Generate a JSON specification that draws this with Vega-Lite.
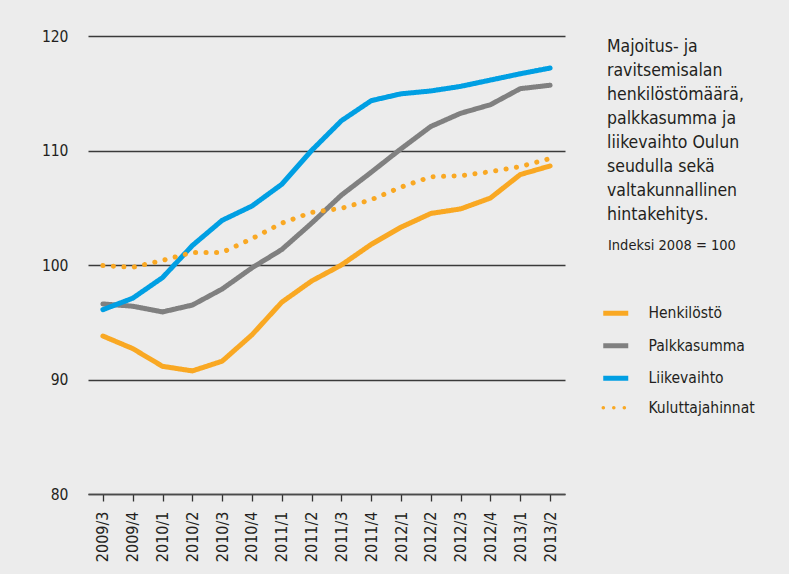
{
  "$schema": "https://vega.github.io/schema/vega-lite/v6.json",
  "width": 490,
  "height": 458,
  "autosize": {"type": "none"},
  "padding": {"left": 78, "top": 36, "right": 221, "bottom": 80},
  "background": "#ececec",
  "config": {
    "view": {"stroke": null},
    "font": "DejaVu Sans Condensed, sans-serif"
  },
  "title": {
    "text": ["Majoitus- ja", "ravitsemisalan", "henkilöstömäärä,", "palkkasumma ja", "liikevaihto Oulun", "seudulla sekä", "valtakunnallinen", "hintakehitys."],
    "orient": "top",
    "anchor": "start",
    "frame": "group",
    "align": "left",
    "baseline": "top",
    "fontSize": 17.5,
    "fontWeight": "normal",
    "lineHeight": 24,
    "color": "#231f20",
    "offset": 4,
    "dx": 529,
    "dy": 198
  },
  "data": {
    "values": [
      {"q": "2009/3", "s": "Henkilöstö", "v": 93.8},
      {"q": "2009/4", "s": "Henkilöstö", "v": 92.7},
      {"q": "2010/1", "s": "Henkilöstö", "v": 91.15},
      {"q": "2010/2", "s": "Henkilöstö", "v": 90.75},
      {"q": "2010/3", "s": "Henkilöstö", "v": 91.6},
      {"q": "2010/4", "s": "Henkilöstö", "v": 93.9},
      {"q": "2011/1", "s": "Henkilöstö", "v": 96.75},
      {"q": "2011/2", "s": "Henkilöstö", "v": 98.6},
      {"q": "2011/3", "s": "Henkilöstö", "v": 100.0},
      {"q": "2011/4", "s": "Henkilöstö", "v": 101.8},
      {"q": "2012/1", "s": "Henkilöstö", "v": 103.3},
      {"q": "2012/2", "s": "Henkilöstö", "v": 104.5},
      {"q": "2012/3", "s": "Henkilöstö", "v": 104.9},
      {"q": "2012/4", "s": "Henkilöstö", "v": 105.85},
      {"q": "2013/1", "s": "Henkilöstö", "v": 107.9},
      {"q": "2013/2", "s": "Henkilöstö", "v": 108.65},
      {"q": "2009/3", "s": "Palkkasumma", "v": 96.6},
      {"q": "2009/4", "s": "Palkkasumma", "v": 96.4},
      {"q": "2010/1", "s": "Palkkasumma", "v": 95.9},
      {"q": "2010/2", "s": "Palkkasumma", "v": 96.5},
      {"q": "2010/3", "s": "Palkkasumma", "v": 97.9},
      {"q": "2010/4", "s": "Palkkasumma", "v": 99.75},
      {"q": "2011/1", "s": "Palkkasumma", "v": 101.35},
      {"q": "2011/2", "s": "Palkkasumma", "v": 103.65},
      {"q": "2011/3", "s": "Palkkasumma", "v": 106.1},
      {"q": "2011/4", "s": "Palkkasumma", "v": 108.1},
      {"q": "2012/1", "s": "Palkkasumma", "v": 110.15},
      {"q": "2012/2", "s": "Palkkasumma", "v": 112.1},
      {"q": "2012/3", "s": "Palkkasumma", "v": 113.25},
      {"q": "2012/4", "s": "Palkkasumma", "v": 114.0},
      {"q": "2013/1", "s": "Palkkasumma", "v": 115.4},
      {"q": "2013/2", "s": "Palkkasumma", "v": 115.7},
      {"q": "2009/3", "s": "Liikevaihto", "v": 96.1},
      {"q": "2009/4", "s": "Liikevaihto", "v": 97.1},
      {"q": "2010/1", "s": "Liikevaihto", "v": 98.9},
      {"q": "2010/2", "s": "Liikevaihto", "v": 101.7},
      {"q": "2010/3", "s": "Liikevaihto", "v": 103.9},
      {"q": "2010/4", "s": "Liikevaihto", "v": 105.15},
      {"q": "2011/1", "s": "Liikevaihto", "v": 107.05},
      {"q": "2011/2", "s": "Liikevaihto", "v": 110.0},
      {"q": "2011/3", "s": "Liikevaihto", "v": 112.6},
      {"q": "2011/4", "s": "Liikevaihto", "v": 114.35},
      {"q": "2012/1", "s": "Liikevaihto", "v": 114.95},
      {"q": "2012/2", "s": "Liikevaihto", "v": 115.2},
      {"q": "2012/3", "s": "Liikevaihto", "v": 115.6},
      {"q": "2012/4", "s": "Liikevaihto", "v": 116.15},
      {"q": "2013/1", "s": "Liikevaihto", "v": 116.7},
      {"q": "2013/2", "s": "Liikevaihto", "v": 117.2},
      {"q": "2009/3", "s": "Kuluttajahinnat", "v": 99.95},
      {"q": "2009/4", "s": "Kuluttajahinnat", "v": 99.8},
      {"q": "2010/1", "s": "Kuluttajahinnat", "v": 100.4},
      {"q": "2010/2", "s": "Kuluttajahinnat", "v": 101.1},
      {"q": "2010/3", "s": "Kuluttajahinnat", "v": 101.1},
      {"q": "2010/4", "s": "Kuluttajahinnat", "v": 102.3},
      {"q": "2011/1", "s": "Kuluttajahinnat", "v": 103.65},
      {"q": "2011/2", "s": "Kuluttajahinnat", "v": 104.6},
      {"q": "2011/3", "s": "Kuluttajahinnat", "v": 104.95},
      {"q": "2011/4", "s": "Kuluttajahinnat", "v": 105.7},
      {"q": "2012/1", "s": "Kuluttajahinnat", "v": 106.8},
      {"q": "2012/2", "s": "Kuluttajahinnat", "v": 107.7},
      {"q": "2012/3", "s": "Kuluttajahinnat", "v": 107.8},
      {"q": "2012/4", "s": "Kuluttajahinnat", "v": 108.15},
      {"q": "2013/1", "s": "Kuluttajahinnat", "v": 108.6},
      {"q": "2013/2", "s": "Kuluttajahinnat", "v": 109.3}
    ]
  },
  "mark": {"type": "line", "strokeWidth": 5, "strokeCap": "round", "strokeJoin": "round"},
  "encoding": {
    "x": {
      "field": "q",
      "type": "ordinal",
      "sort": null,
      "scale": {"type": "point", "range": [10, 487]},
      "axis": {
        "title": null,
        "grid": false,
        "domain": true,
        "domainColor": "#4a4a4a",
        "domainWidth": 1.5,
        "ticks": true,
        "tickColor": "#333333",
        "tickWidth": 1.3,
        "tickSize": 7,
        "labelAngle": 270,
        "labelAlign": "right",
        "labelBaseline": "middle",
        "labelPadding": 10,
        "labelFontSize": 16,
        "labelColor": "#231f20"
      }
    },
    "y": {
      "field": "v",
      "type": "quantitative",
      "scale": {"domain": [80, 120], "nice": false, "zero": false},
      "axis": {
        "title": null,
        "values": [80, 90, 100, 110, 120],
        "grid": true,
        "gridColor": "#3a3a3a",
        "gridWidth": 1.3,
        "domain": false,
        "ticks": false,
        "labelPadding": 10,
        "labelFontSize": 15.5,
        "labelColor": "#231f20"
      }
    },
    "color": {
      "field": "s",
      "type": "nominal",
      "scale": {
        "domain": ["Henkilöstö", "Palkkasumma", "Liikevaihto", "Kuluttajahinnat"],
        "range": ["#f9a823", "#808080", "#009fe3", "#f9a823"]
      },
      "legend": {
        "orient": "none",
        "legendX": 530,
        "legendY": 202.5,
        "padding": 0,
        "title": "Indeksi 2008 = 100",
        "titleFontSize": 14.5,
        "titleFontWeight": "normal",
        "titleColor": "#231f20",
        "titlePadding": 52.5,
        "symbolType": "stroke",
        "symbolSize": 625,
        "symbolStrokeWidth": 5,
        "labelFontSize": 15.5,
        "labelColor": "#231f20",
        "labelOffset": 25,
        "rowPadding": 11.5,
        "encode": {
          "symbols": {
            "update": {
              "strokeDash": {"signal": "datum.value == 'Kuluttajahinnat' ? [0.1, 5] : [1, 0]"},
              "strokeCap": {"signal": "datum.value == 'Kuluttajahinnat' ? 'round' : 'butt'"},
              "strokeWidth": {"signal": "datum.value == 'Kuluttajahinnat' ? 3.5 : 5"}
            }
          }
        }
      }
    },
    "strokeDash": {
      "field": "s",
      "type": "nominal",
      "scale": {
        "domain": ["Henkilöstö", "Palkkasumma", "Liikevaihto", "Kuluttajahinnat"],
        "range": [[1, 0], [1, 0], [1, 0], [0.1, 10.4]]
      },
      "legend": null
    }
  }
}
